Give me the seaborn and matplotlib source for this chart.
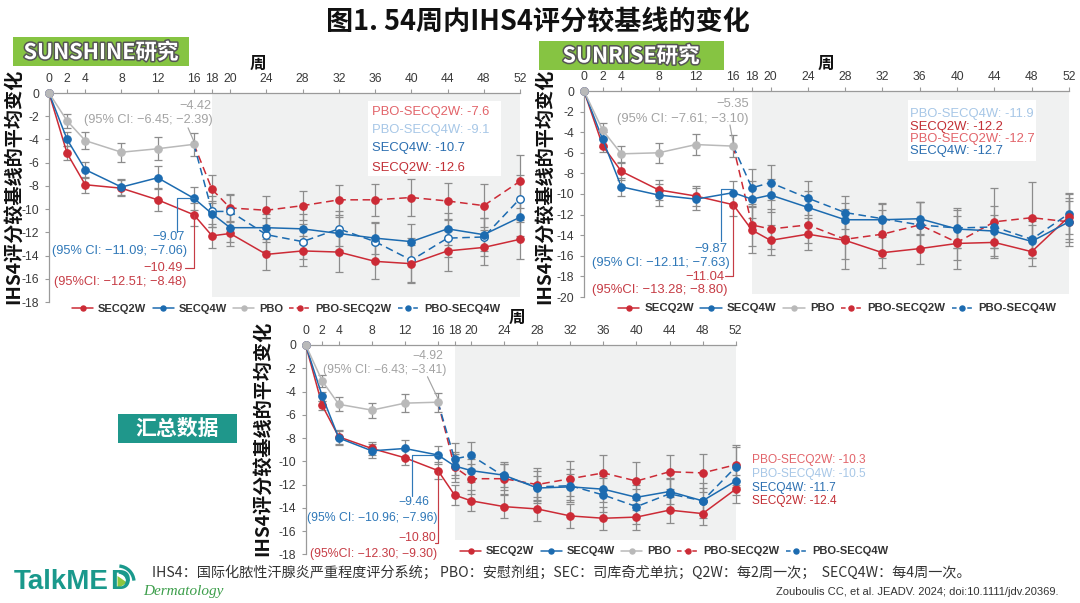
import numpy as np
import pandas as pd
import matplotlib
matplotlib.use("Agg")
import matplotlib.pyplot as plt
import seaborn as sns
from matplotlib.lines import Line2D
from matplotlib.patches import Rectangle, Arc, Polygon
from matplotlib.transforms import IdentityTransform
import matplotlib.patheffects as pe

# ---------------- data ----------------
weeks = [0, 2, 4, 8, 12, 16, 18, 20, 24, 28, 32, 36, 40, 44, 48, 52]
pbo_weeks = [0, 2, 4, 8, 12, 16]
switch_weeks = [18, 20, 24, 28, 32, 36, 40, 44, 48, 52]
week_tick_labels = [str(w) for w in weeks]
series_names = ["SECQ2W", "SECQ4W", "PBO", "PBO-SECQ2W", "PBO-SECQ4W"]

# SUNSHINE
sunshine_secq2w = [0, -5.2, -7.9, -8.2, -9.2, -10.49, -12.3, -12.1, -13.9, -13.6, -13.7, -14.5, -14.7, -13.6, -13.3, -12.6]
sunshine_secq4w = [0, -4.0, -6.6, -8.1, -7.3, -9.07, -10.4, -11.6, -11.6, -11.7, -12.1, -12.5, -12.8, -11.7, -12.2, -10.7]
sunshine_pbo = [0, -2.4, -4.1, -5.1, -4.8, -4.42]
sunshine_pbo_secq2w = [-8.3, -9.9, -10.1, -9.7, -9.2, -9.2, -9.0, -9.3, -9.7, -7.6]
sunshine_pbo_secq4w = [-10.2, -10.2, -12.2, -12.8, -11.7, -12.8, -14.4, -12.5, -12.4, -9.1]
sunshine_err_secq2w = [0, 0.6, 0.7, 0.7, 1.0, 1.0, 1.05, 1.1, 1.35, 1.3, 1.7, 1.5, 1.65, 1.7, 1.5, 1.7]
sunshine_err_secq4w = [0, 0.6, 0.7, 0.7, 1.0, 1.0, 1.1, 1.2, 1.2, 1.3, 1.4, 1.4, 1.5, 1.4, 1.4, 1.6]
sunshine_err_pbo = [0, 0.6, 0.7, 0.8, 1.0, 1.0]
sunshine_err_pbo_secq2w = [1.2, 1.2, 1.25, 1.25, 1.3, 1.4, 1.6, 1.55, 1.85, 2.3]
sunshine_err_pbo_secq4w = [1.3, 1.4, 1.4, 1.5, 1.5, 1.6, 1.9, 1.6, 1.6, 2.0]

# SUNRISE
sunrise_secq2w = [0, -5.3, -7.8, -9.6, -10.2, -11.04, -13.5, -14.5, -13.9, -14.5, -15.7, -15.3, -14.8, -14.7, -15.6, -12.2]
sunrise_secq4w = [0, -4.7, -9.3, -10.1, -10.5, -9.87, -10.5, -10.1, -11.3, -12.5, -12.5, -12.4, -13.4, -13.6, -14.6, -12.7]
sunrise_pbo = [0, -3.8, -6.1, -6.0, -5.2, -5.35]
sunrise_pbo_secq2w = [-13.0, -13.4, -13.0, -14.4, -13.9, -13.0, -14.7, -12.7, -12.3, -12.7]
sunrise_pbo_secq4w = [-9.4, -8.9, -10.4, -11.8, -12.4, -13.0, -13.3, -13.2, -14.4, -11.9]
sunrise_err_secq2w = [0, 0.6, 0.8, 1.0, 1.0, 1.1, 2.2, 1.45, 1.55, 1.8, 1.5, 1.45, 1.6, 1.5, 1.4, 2.2]
sunrise_err_secq4w = [0, 0.7, 0.9, 1.1, 1.05, 1.1, 1.8, 1.6, 1.6, 1.6, 1.5, 1.6, 1.8, 1.6, 1.6, 2.0]
sunrise_err_pbo = [0, 0.7, 0.8, 1.0, 1.0, 1.1]
sunrise_err_pbo_secq2w = [2.0, 1.9, 1.8, 2.9, 2.3, 2.2, 2.6, 3.3, 3.5, 2.3]
sunrise_err_pbo_secq4w = [1.8, 1.7, 1.65, 1.6, 1.5, 2.2, 1.9, 2.0, 1.8, 2.0]

# Pooled
pooled_secq2w = [0, -5.2, -7.9, -8.9, -9.7, -10.80, -12.9, -13.4, -13.9, -14.1, -14.7, -14.9, -14.8, -14.2, -14.5, -12.4]
pooled_secq4w = [0, -4.4, -8.0, -9.1, -8.9, -9.46, -10.4, -10.8, -11.2, -12.3, -12.2, -12.4, -13.1, -12.6, -13.4, -11.7]
pooled_pbo = [0, -3.1, -5.1, -5.6, -5.0, -4.92]
pooled_pbo_secq2w = [-10.5, -11.5, -11.5, -12.0, -11.5, -11.0, -11.7, -10.9, -11.0, -10.3]
pooled_pbo_secq4w = [-9.8, -9.5, -11.3, -12.2, -12.1, -12.9, -13.9, -12.8, -13.4, -10.5]
pooled_err_secq2w = [0, 0.4, 0.6, 0.6, 0.65, 0.7, 0.9, 0.9, 1.0, 1.0, 1.05, 1.0, 1.1, 1.1, 1.0, 1.2]
pooled_err_secq4w = [0, 0.4, 0.6, 0.6, 0.7, 0.8, 1.0, 1.0, 1.0, 1.0, 1.1, 1.1, 1.1, 1.1, 1.1, 1.2]
pooled_err_pbo = [0, 0.5, 0.6, 0.65, 0.75, 0.8]
pooled_err_pbo_secq2w = [1.3, 1.3, 1.3, 1.4, 1.5, 1.5, 1.6, 1.45, 1.6, 1.7]
pooled_err_pbo_secq4w = [1.35, 1.2, 1.2, 1.4, 1.4, 1.5, 1.5, 1.4, 1.5, 1.7]

# text
title_text = "图1. 54周内IHS4评分较基线的变化"
ylabel_text = "IHS4评分较基线的平均变化"
week_label = "周"
sunshine_end = [("PBO-SECQ2W: -7.6", "p2"), ("PBO-SECQ4W: -9.1", "p4"), ("SECQ4W: -10.7", "s4"), ("SECQ2W: -12.6", "s2")]
sunrise_end = [("PBO-SECQ4W: -11.9", "p4"), ("SECQ2W: -12.2", "s2"), ("PBO-SECQ2W: -12.7", "p2"), ("SECQ4W: -12.7", "s4")]
pooled_end = [("PBO-SECQ2W: -10.3", "p2"), ("PBO-SECQ4W: -10.5", "p4"), ("SECQ4W: -11.7", "s4"), ("SECQ2W: -12.4", "s2")]
footer_text = "IHS4：国际化脓性汗腺炎严重程度评分系统； PBO：安慰剂组；SEC：司库奇尤单抗；Q2W：每2周一次；  SECQ4W：每4周一次。"
cite_text = "Zouboulis CC, et al. JEADV. 2024; doi:10.1111/jdv.20369."

# ---------------- style ----------------
sns.set_theme(style="white")
plt.rcParams['font.family'] = ['Liberation Sans', 'Noto Sans CJK SC', 'DejaVu Sans']
plt.rcParams['axes.unicode_minus'] = False
CJK = ['Noto Sans CJK SC', 'DejaVu Sans']

RED = '#cc2b36'
BLUE = '#1c6bb0'
GRAY = '#b9b9b9'
ERR = '#8c8c8c'
SHADE = '#f0f1f1'
SPINE = '#9a9a9a'
TXT_COL = {"p2": '#e2646a', "p4": '#a7c7e7', "s4": '#2a6eb0', "s2": '#c22f35'}
ANN_GRAY = '#a3a3a3'
ANN_BLUE = '#2f78b8'
ANN_RED = '#c63c45'

W, H = 1080, 603
def fx(x): return x / W
def fy(y): return 1 - y / H

fig = plt.figure(figsize=(10.8, 6.03), dpi=100)

def make_ax(left, right, top, bottom):
    return fig.add_axes([fx(left), fy(bottom), fx(right) - fx(left), fy(top) - fy(bottom)])

def draw_panel(ax, s2, s4, pb, p2, p4, e2, e4, ep, ep2, ep4, ybot, shade_bot, open4=False):
    ax.fill_between([18, 52], [-0.05, -0.05], [shade_bot, shade_bot], color=SHADE, lw=0, zorder=0)
    eb = dict(fmt='none', ecolor=ERR, elinewidth=0.9, capsize=2.6, capthick=0.9, zorder=2, clip_on=False)
    ax.errorbar(weeks[1:], s2[1:], yerr=e2[1:], **eb)
    ax.errorbar(weeks[1:], s4[1:], yerr=e4[1:], **eb)
    ax.errorbar(pbo_weeks[1:], pb[1:], yerr=ep[1:], **eb)
    ax.errorbar(switch_weeks, p2, yerr=ep2, **eb)
    ax.errorbar(switch_weeks, p4, yerr=ep4, **eb)

    common = dict(ax=ax, errorbar=None, sort=False, legend=False, clip_on=False,
                  marker='o', markersize=5.4, linewidth=1.1)
    xs = [pbo_weeks[-1]] + switch_weeks
    d2 = pd.DataFrame({'week': xs, 'v': [pb[-1]] + p2})
    sns.lineplot(data=d2, x='week', y='v', color=RED, linestyle=(0, (5, 3)),
                 markevery=list(range(1, len(xs))), markerfacecolor=RED,
                 markeredgecolor=RED, markeredgewidth=0.8, zorder=3, **common)
    d4 = pd.DataFrame({'week': xs, 'v': [pb[-1]] + p4})
    sns.lineplot(data=d4, x='week', y='v', color=BLUE, linestyle=(0, (5, 3)),
                 markevery=list(range(1, len(xs))),
                 markerfacecolor=('white' if open4 else BLUE),
                 markeredgecolor=BLUE, markeredgewidth=(1.0 if open4 else 0.8), zorder=3, **common)
    ds2 = pd.DataFrame({'week': weeks, 'v': s2})
    sns.lineplot(data=ds2, x='week', y='v', color=RED, linestyle='-', markerfacecolor=RED,
                 markeredgecolor=RED, markeredgewidth=0.8, zorder=3.2, **common)
    ds4 = pd.DataFrame({'week': weeks, 'v': s4})
    sns.lineplot(data=ds4, x='week', y='v', color=BLUE, linestyle='-', markerfacecolor=BLUE,
                 markeredgecolor=BLUE, markeredgewidth=0.8, zorder=3.4, **common)
    dp = pd.DataFrame({'week': pbo_weeks, 'v': pb})
    sns.lineplot(data=dp, x='week', y='v', color=GRAY, linestyle='-', markerfacecolor=GRAY,
                 markeredgecolor=GRAY, markeredgewidth=0.8, zorder=4, **common)

    ax.set_xlim(0, 52)
    ax.set_ylim(ybot, 0)
    ax.set_xlabel('')
    ax.set_ylabel('')
    ax.set_xticks(weeks)
    ax.set_xticklabels(week_tick_labels)
    yt = list(range(ybot, 1, 2))
    ax.set_yticks(yt)
    ax.set_yticklabels([str(v) for v in yt])
    ax.xaxis.set_ticks_position('top')
    ax.tick_params(axis='x', top=True, bottom=False, labeltop=True, labelbottom=False,
                   direction='out', length=3, width=0.8, color=SPINE, labelsize=8.7,
                   labelcolor='#3a3a3a', pad=2.5)
    ax.tick_params(axis='y', left=True, direction='out', length=3, width=0.8, color=SPINE,
                   labelsize=8.7, labelcolor='#3a3a3a', pad=4)
    for s in ['bottom', 'right']:
        ax.spines[s].set_visible(False)
    for s in ['top', 'left']:
        ax.spines[s].set_color(SPINE)
        ax.spines[s].set_linewidth(0.9)
    ax.set_facecolor('none')

def leader(ax, xs, ys, color):
    ax.plot(xs, ys, color=color, lw=0.85, clip_on=False, zorder=5)

def ftext(x, y, s, **kw):
    fig.text(fx(x), fy(y), s, **kw)

def legend_at(cx, cy, size=8.0):
    handles = [
        Line2D([], [], color=RED, lw=1.1, marker='o', markersize=3.6),
        Line2D([], [], color=BLUE, lw=1.1, marker='o', markersize=3.6),
        Line2D([], [], color=GRAY, lw=1.1, marker='o', markersize=3.6),
        Line2D([], [], color=RED, lw=1.1, ls=(0, (3, 2)), marker='o', markersize=3.6),
        Line2D([], [], color=BLUE, lw=1.1, ls=(0, (3, 2)), marker='o', markersize=3.6),
    ]
    fig.legend(handles, series_names, loc='center', bbox_to_anchor=(fx(cx), fy(cy)),
               bbox_transform=fig.transFigure, ncol=5, frameon=False,
               prop={'weight': 'bold', 'size': size}, labelcolor='#333333',
               handlelength=1.9, handletextpad=0.45, columnspacing=0.55, borderpad=0.1)

YL_SIZE = 13.8

# ---------------- Panel 1: SUNSHINE ----------------
ax1 = make_ax(49, 520, 93, 302)
draw_panel(ax1, sunshine_secq2w, sunshine_secq4w, sunshine_pbo, sunshine_pbo_secq2w, sunshine_pbo_secq4w,
           sunshine_err_secq2w, sunshine_err_secq4w, sunshine_err_pbo, sunshine_err_pbo_secq2w,
           sunshine_err_pbo_secq4w, -18, -17.6, open4=True)
leader(ax1, [15.35, 16], [-3.0, sunshine_pbo[-1] + 0.25], ANN_GRAY)
leader(ax1, [16, 14.1, 14.1], [sunshine_secq4w[5], sunshine_secq4w[5], -11.95], ANN_BLUE)
leader(ax1, [16, 16, 15.05], [sunshine_secq2w[5], -15.07, -15.07], ANN_RED)
ftext(195, 106, "\u22124.42", ha='center', va='center', fontsize=9.2, color=ANN_GRAY)
ftext(148, 120.5, "(95% CI: \u22126.45; \u22122.39)", ha='center', va='center', fontsize=9.2, color=ANN_GRAY)
ftext(185, 237, "\u22129.07", ha='right', va='center', fontsize=9.2, color=ANN_BLUE)
ftext(120, 251, "(95% CI: \u221211.09; \u22127.06)", ha='center', va='center', fontsize=9.2, color=ANN_BLUE)
ftext(183, 268, "\u221210.49", ha='right', va='center', fontsize=9.2, color=ANN_RED)
ftext(120, 282, "(95%CI: \u221212.51; \u22128.48)", ha='center', va='center', fontsize=9.2, color=ANN_RED)
fig.add_artist(Rectangle((fx(368), fy(176)), fx(501) - fx(368), fy(101) - fy(176),
                         transform=fig.transFigure, facecolor='white', edgecolor='none', zorder=1))
for (s, k), yy in zip(sunshine_end, [112, 129.5, 148, 168]):
    ftext(372, yy, s, ha='left', va='center', fontsize=9.4, color=TXT_COL[k], zorder=2)
ftext(258, 64, week_label, ha='center', va='center', fontsize=12, weight='bold', family=CJK, color='#111')
ftext(13.5, 186, ylabel_text, ha='center', va='center', rotation=90, fontsize=YL_SIZE,
      weight='bold', family=CJK, color='#111')
legend_at(286, 309)

# ---------------- Panel 2: SUNRISE ----------------
ax2 = make_ax(584, 1069, 91, 297)
draw_panel(ax2, sunrise_secq2w, sunrise_secq4w, sunrise_pbo, sunrise_pbo_secq2w, sunrise_pbo_secq4w,
           sunrise_err_secq2w, sunrise_err_secq4w, sunrise_err_pbo, sunrise_err_pbo_secq2w,
           sunrise_err_pbo_secq4w, -20, -19.75)
leader(ax2, [15.65, 16], [-3.3, sunrise_pbo[-1] + 0.3], ANN_GRAY)
leader(ax2, [16, 14.69, 14.69], [sunrise_secq4w[5] + 0.35, sunrise_secq4w[5] + 0.35, -14.6], ANN_BLUE)
leader(ax2, [16, 16, 15.1], [sunrise_secq2w[5], -18.0, -18.0], ANN_RED)
ftext(733, 104, "\u22125.35", ha='center', va='center', fontsize=9.4, color=ANN_GRAY)
ftext(683, 119, "(95% CI: \u22127.61; \u22123.10)", ha='center', va='center', fontsize=9.4, color=ANN_GRAY)
ftext(727, 249, "\u22129.87", ha='right', va='center', fontsize=9.4, color=ANN_BLUE)
ftext(660.5, 262.7, "(95% CI: \u221212.11; \u22127.63)", ha='center', va='center', fontsize=9.4, color=ANN_BLUE)
ftext(724.7, 276.7, "\u221211.04", ha='right', va='center', fontsize=9.4, color=ANN_RED)
ftext(660, 289.5, "(95%CI: \u221213.28; \u22128.80)", ha='center', va='center', fontsize=9.4, color=ANN_RED)
fig.add_artist(Rectangle((fx(908), fy(161)), fx(1036) - fx(908), fy(100) - fy(161),
                         transform=fig.transFigure, facecolor='white', edgecolor='none', zorder=1))
for (s, k), yy in zip(sunrise_end, [114, 126.7, 139, 151.3]):
    ftext(910.5, yy, s, ha='left', va='center', fontsize=9.4, color=TXT_COL[k], zorder=2)
ftext(826, 63.5, week_label, ha='center', va='center', fontsize=12, weight='bold', family=CJK, color='#111')
ftext(544, 186, ylabel_text, ha='center', va='center', rotation=90, fontsize=YL_SIZE,
      weight='bold', family=CJK, color='#111')
legend_at(837, 308.5, size=8.2)

# ---------------- Panel 3: pooled ----------------
ax3 = make_ax(305.7, 735.7, 345, 554.3)
draw_panel(ax3, pooled_secq2w, pooled_secq4w, pooled_pbo, pooled_pbo_secq2w, pooled_pbo_secq4w,
           pooled_err_secq2w, pooled_err_secq4w, pooled_err_pbo, pooled_err_pbo_secq2w,
           pooled_err_pbo_secq4w, -18, -16.8)
leader(ax3, [14.73, 16], [-2.73, pooled_pbo[-1] + 0.3], ANN_GRAY)
leader(ax3, [16, 12.85, 12.85], [pooled_secq4w[5], pooled_secq4w[5], -12.96], ANN_BLUE)
leader(ax3, [16, 16, 15.6], [pooled_secq2w[5], -17.0, -17.0], ANN_RED)
ftext(427.5, 355.7, "\u22124.92", ha='center', va='center', fontsize=8.8, color=ANN_GRAY)
ftext(384.6, 370, "(95% CI: \u22126.43; \u22123.41)", ha='center', va='center', fontsize=8.8, color=ANN_GRAY)
ftext(429.3, 502.3, "\u22129.46", ha='right', va='center', fontsize=8.8, color=ANN_BLUE)
ftext(372, 517.7, "(95% CI: \u221210.96; \u22127.96)", ha='center', va='center', fontsize=8.8, color=ANN_BLUE)
ftext(435.7, 537.7, "\u221210.80", ha='right', va='center', fontsize=8.8, color=ANN_RED)
ftext(374, 553.7, "(95%CI: \u221212.30; \u22129.30)", ha='center', va='center', fontsize=8.8, color=ANN_RED)
for (s, k), yy in zip(pooled_end, [460, 473.5, 487.7, 500.7]):
    ftext(751.8, yy, s, ha='left', va='center', fontsize=8.6, color=TXT_COL[k], zorder=2)
ftext(516.7, 318, week_label, ha='center', va='center', fontsize=12, weight='bold', family=CJK, color='#111')
ftext(263, 438, ylabel_text, ha='center', va='center', rotation=90, fontsize=YL_SIZE,
      weight='bold', family=CJK, color='#111')
legend_at(674, 551.5)

# ---------------- title & labels ----------------
ftext(538, 22, title_text, ha='center', va='center', fontsize=19.5, weight='bold', family=CJK, color='#111')

stroke = [pe.withStroke(linewidth=2.2, foreground='#555555')]
fig.add_artist(Rectangle((fx(13), fy(66)), fx(189) - fx(13), fy(37) - fy(66),
                         transform=fig.transFigure, facecolor='#86c442', edgecolor='none', zorder=1))
ftext(101, 52.5, "SUNSHINE研究", ha='center', va='center', fontsize=15.5, weight='bold',
      family=CJK, color='white', path_effects=stroke, zorder=2)
fig.add_artist(Rectangle((fx(539), fy(69.5)), fx(724) - fx(539), fy(41.5) - fy(69.5),
                         transform=fig.transFigure, facecolor='#86c442', edgecolor='none', zorder=1))
ftext(631, 56, "SUNRISE研究", ha='center', va='center', fontsize=15.5, weight='bold',
      family=CJK, color='white', path_effects=stroke, zorder=2)
fig.add_artist(Rectangle((fx(118), fy(443)), fx(237) - fx(118), fy(414) - fy(443),
                         transform=fig.transFigure, facecolor='#1f978b', edgecolor='none', zorder=1))
ftext(177.5, 428.5, "汇总数据", ha='center', va='center', fontsize=15, weight='bold',
      family=CJK, color='white', zorder=2)

# ---------------- footer ----------------
ftext(151.5, 572.7, footer_text, ha='left', va='center', fontsize=10.2, color='#333333', family=CJK)
ftext(1058, 591.7, cite_text, ha='right', va='center', fontsize=8, color='#333333')

# logo
TEAL = '#1a998c'
ftext(14, 582, "TalkME", ha='left', va='center', fontsize=20, weight='bold', color=TEAL)
ftext(110, 582, "D", ha='left', va='center', fontsize=20, weight='bold', color=TEAL)
fig.add_artist(Polygon([(fx(117.5), fy(576)), (fx(117.5), fy(589)), (fx(127), fy(582.5))],
                       closed=True, transform=fig.transFigure, facecolor='#8cc63f', edgecolor='none'))
for r in (10, 16):
    fig.add_artist(Arc((118, H - 582), 2 * r, 2 * r, theta1=5, theta2=85,
                       transform=IdentityTransform(), color=TEAL, lw=2.4))
ftext(143, 591, "Dermatology", ha='left', va='center', fontsize=11, style='italic',
      family=['Liberation Serif', 'DejaVu Serif'], color='#3c9e4a')

fig.savefig("out.png", dpi=100)
